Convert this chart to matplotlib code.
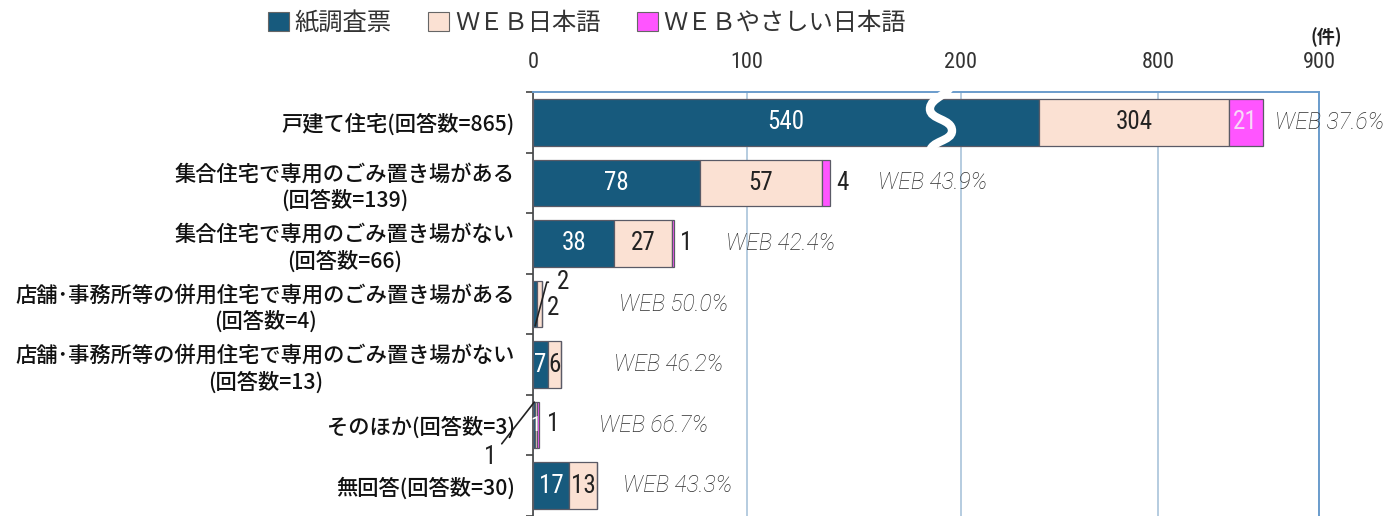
import numpy as np
import matplotlib
matplotlib.use('Agg')
from matplotlib import pyplot as plt
from matplotlib.patches import Patch, PathPatch
from matplotlib.path import Path

plt.rcParams['font.family'] = ['Noto Sans CJK JP', 'DejaVu Sans']

# Data
CATEGORIES = ['戸建て住宅(回答数=865)',
              '集合住宅で専用のごみ置き場がある\n(回答数=139)',
              '集合住宅で専用のごみ置き場がない\n(回答数=66)',
              '店舗･事務所等の併用住宅で専用のごみ置き場がある\n(回答数=4)',
              '店舗･事務所等の併用住宅で専用のごみ置き場がない\n(回答数=13)',
              'そのほか(回答数=3)',
              '無回答(回答数=30)']
PAPER = [540, 78, 38, 2, 7, 1, 17]
WEB_JA = [304, 57, 27, 2, 6, 1, 13]
WEB_EASY = [21, 4, 1, 0, 0, 1, 0]
SERIES_NAMES = ['紙調査票', 'ＷＥＢ日本語', 'ＷＥＢやさしい日本語']
X_TICKS = [0, 100, 200, 800, 900]

# broken axis: data value -> axis length
BREAK_IN = [0, 200, 540, 800, 900]
BREAK_OUT = [0, 200, 236.4, 292, 367.3]

# where the "WEB xx%" notes start (data units)
WEB_LABEL_X = [873, 161, 90, 40, 38, 31, 42]

COLORS = ['#175a7d', '#fbe1d3', '#ff55ff']
TEXT_COLORS = ['white', '#222222', '#f8d8f8']
NARROW = ['Roboto Condensed', 'Roboto', 'DejaVu Sans']


def fwd(x):
    x = np.asarray(x, dtype=float)
    return np.where(x < 0, x, np.interp(x, BREAK_IN, BREAK_OUT))


def inv(x):
    x = np.asarray(x, dtype=float)
    return np.where(x < 0, x, np.interp(x, BREAK_OUT, BREAK_IN))


fig = plt.figure(figsize=(13.87, 5.16), dpi=100)
ax = fig.add_axes([533 / 1387, 0.0, 786 / 1387, 424 / 516])
ax.set_xscale('function', functions=(fwd, inv))
ax.set_xlim(0, 900)
ax.set_ylim(6.467, -0.484)

y = np.arange(len(CATEGORIES))
series = [np.array(PAPER), np.array(WEB_JA), np.array(WEB_EASY)]
left = np.zeros(len(CATEGORIES))
for vals, col in zip(series, COLORS):
    ax.barh(y, vals, left=left, height=0.77, color=col,
            edgecolor='#5a5a66', linewidth=0.9, zorder=3)
    left = left + vals

# value labels inside the segments
left = np.zeros(len(CATEGORIES))
for vals, tc in zip(series, TEXT_COLORS):
    for i, v in enumerate(vals):
        if v >= 5:
            mid = inv((fwd(left[i]) + fwd(left[i] + v)) / 2)
            ax.text(mid, i, str(v), ha='center', va='center', color=tc,
                    fontsize=18, family=NARROW, zorder=5)
    left = left + vals
totals = left

# small WEB easy-Japanese counts just right of the bar
for i in [1, 2]:
    ax.annotate(str(WEB_EASY[i]), xy=(totals[i], i), xytext=(4, 0),
                textcoords='offset points', ha='left', va='center',
                fontsize=18, family=NARROW, color='#222222')

# tiny rows with leader lines
ax.annotate(str(PAPER[3]), xy=(1, 3.36), xytext=(14, 2.64),
            ha='center', va='center', fontsize=18, family=NARROW, color='#222222',
            arrowprops=dict(arrowstyle='-', color='#222222', lw=1.2,
                            connectionstyle='angle,angleA=180,angleB=75,rad=0',
                            shrinkA=4, shrinkB=0),
            annotation_clip=False, zorder=6)
ax.text(9.3, 3.06, str(WEB_JA[3]), ha='center', va='center', fontsize=18,
        family=NARROW, color='#222222')
ax.text(1.2, 5.0, str(PAPER[5]), ha='center', va='center', fontsize=15,
        family=NARROW, color='white', zorder=5)
ax.text(9.3, 4.98, str(WEB_EASY[5]), ha='center', va='center', fontsize=18,
        family=NARROW, color='#222222')
ax.annotate(str(WEB_JA[5]), xy=(0.6, 4.62), xytext=(-20, 5.52),
            ha='center', va='center', fontsize=18, family=NARROW, color='#222222',
            arrowprops=dict(arrowstyle='-', color='#222222', lw=1.2,
                            connectionstyle='angle,angleA=0,angleB=52,rad=0',
                            shrinkA=3, shrinkB=0),
            annotation_clip=False, zorder=6)

# WEB share notes
for i in range(len(CATEGORIES)):
    pct = (WEB_JA[i] + WEB_EASY[i]) / totals[i] * 100
    ax.text(WEB_LABEL_X[i], i, f'WEB {pct:.1f}%', ha='left', va='center',
            fontsize=16.5, family=['Roboto', 'DejaVu Sans'], style='italic',
            weight='light', color='#2e2e2e', clip_on=False, zorder=6)

# axis break mark on the first bar
verts = [(195.8, -0.68), (195.8, -0.45), (185.5, -0.42), (185.5, -0.22),
         (185.5, -0.04), (195.8, -0.06), (195.8, 0.14),
         (195.8, 0.32), (185.5, 0.30), (185.5, 0.50)]
codes = [Path.MOVETO] + [Path.CURVE4] * 9
ax.add_patch(PathPatch(Path(verts, codes), facecolor='none', edgecolor='white',
                       lw=6, capstyle='butt', clip_on=False, zorder=7))

# axes styling
ax.xaxis.tick_top()
ax.set_xticks(X_TICKS)
ax.set_xticklabels([str(t) for t in X_TICKS], family=NARROW, fontsize=16,
                   color='#333333')
ax.tick_params(axis='x', length=0, pad=14)
ax.xaxis.grid(True, color='#a9c3da', linewidth=1.2, zorder=0)
ax.set_axisbelow(True)

ax.set_yticks(y)
ax.set_yticklabels(CATEGORIES, fontsize=15.3, color='#111111', weight='medium',
                   multialignment='center', linespacing=1.25)
ax.set_yticks(np.arange(-0.5, 7, 1), minor=True)
ax.tick_params(axis='y', which='major', length=0, pad=13)
ax.tick_params(axis='y', which='minor', length=5, width=1.2, color='#444444')

ax.spines['left'].set_color('#444444')
ax.spines['left'].set_linewidth(1.2)
ax.spines['top'].set_color('#6a9ccc')
ax.spines['right'].set_color('#6a9ccc')
ax.spines['top'].set_linewidth(1.4)
ax.spines['right'].set_linewidth(1.4)
ax.spines['bottom'].set_visible(False)

# legend
handles = [Patch(facecolor=c, edgecolor='#666666', linewidth=0.8) for c in COLORS]
fig.legend(handles, SERIES_NAMES, loc='upper left', ncol=3,
           bbox_to_anchor=(268 / 1387, 1 - 10 / 516), frameon=False,
           fontsize=17.5, handlelength=0.85, handleheight=0.85,
           handletextpad=0.25, columnspacing=1.5, borderpad=0,
           borderaxespad=0, labelcolor='#333333')

fig.text(1326 / 1387, 1 - 37 / 516, '(件)', ha='center', va='center',
         fontsize=13, weight='bold', color='#222222')

plt.savefig('out.png', dpi=100)
